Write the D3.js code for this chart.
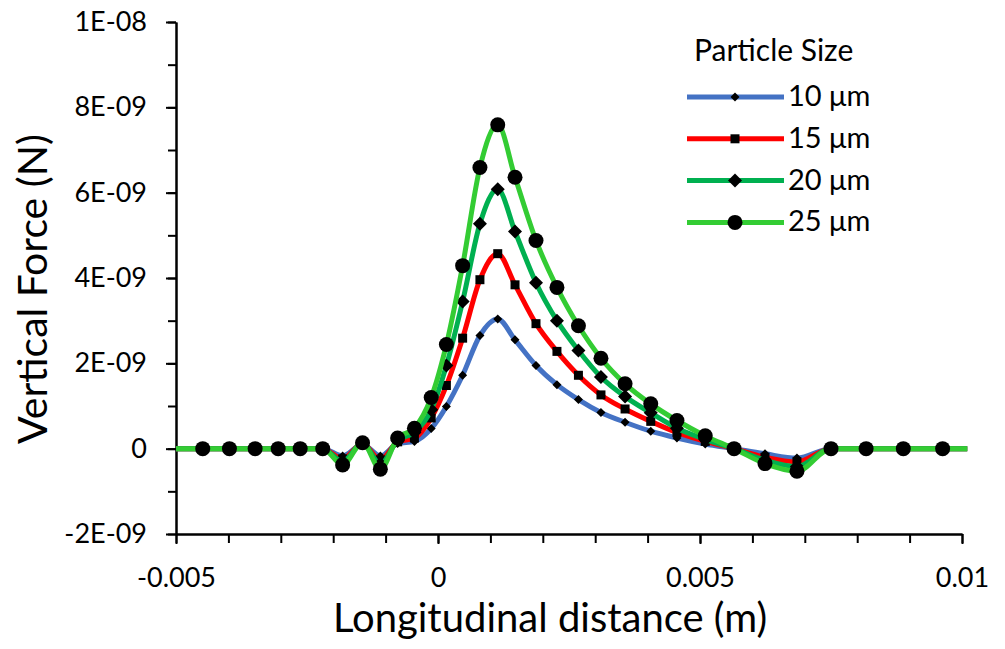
<!DOCTYPE html>
<head>
  <meta charset="utf-8">
  <script src="https://cdn.jsdelivr.net/npm/d3@7"></script>
  <style>
    body { margin: 0; background: #fff; }
    text { font-family: Lato, "Open Sans", sans-serif; fill: #000; }
  </style>
</head>
<body>
  <script>
    // longitudinal positions (m); first and last are line ends without markers
    var xs = [-0.005, -0.00449, -0.00398, -0.00349, -0.00305, -0.00263, -0.00220,
              -0.00182, -0.00144, -0.00110, -0.00077, -0.00045, -0.00013, 0.00016,
              0.00047, 0.00080, 0.00114, 0.00147, 0.00187, 0.00227, 0.00268, 0.00311,
              0.00357, 0.00406, 0.00456, 0.00510, 0.00565, 0.00624, 0.00685, 0.0075,
              0.00817, 0.00888, 0.00963, 0.0101];

    // vertical force in units of 1E-09 N
    var f10 = [0, 0, 0, 0, 0, 0, 0, -0.17, 0.10, -0.17, 0.12, 0.17, 0.47, 0.99, 1.72, 2.65, 3.04,
               2.55, 1.95, 1.50, 1.15, 0.85, 0.62, 0.41, 0.25, 0.11, 0, -0.12, -0.22, 0, 0, 0, 0, 0];
    var f15 = [0, 0, 0, 0, 0, 0, 0, -0.24, 0.12, -0.26, 0.16, 0.25, 0.72, 1.48, 2.59, 3.96, 4.57,
               3.84, 2.93, 2.28, 1.72, 1.26, 0.93, 0.64, 0.38, 0.17, 0, -0.20, -0.31, 0, 0, 0, 0, 0];
    var f20 = [0, 0, 0, 0, 0, 0, 0, -0.30, 0.13, -0.36, 0.20, 0.38, 0.91, 1.95, 3.45, 5.27, 6.08,
               5.09, 3.89, 3.00, 2.30, 1.68, 1.22, 0.84, 0.48, 0.22, 0, -0.27, -0.42, 0, 0, 0, 0, 0];
    var f25 = [0, 0, 0, 0, 0, 0, 0, -0.38, 0.14, -0.48, 0.25, 0.48, 1.20, 2.44, 4.29, 6.59, 7.59,
               6.36, 4.88, 3.78, 2.88, 2.12, 1.52, 1.05, 0.66, 0.30, 0, -0.35, -0.53, 0, 0, 0, 0, 0];

    var seriesNames = ["10 \u03bcm", "15 \u03bcm", "20 \u03bcm", "25 \u03bcm"];
    var seriesColors = ["#4472C4", "#FF0000", "#00B050", "#33CC33"];
    var seriesMarkers = ["smallDiamond", "square", "diamond", "circle"];

    var xTicks = [-0.005, 0, 0.005, 0.01];
    var xTickLabels = ["-0.005", "0", "0.005", "0.01"];
    var yTicks = [-2e-9, 0, 2e-9, 4e-9, 6e-9, 8e-9, 1e-8];
    var yTickLabels = ["-2E-09", "0", "2E-09", "4E-09", "6E-09", "8E-09", "1E-08"];

    var width = 1005, height = 649;
    var margin = {top: 22, right: 43, bottom: 115, left: 176};

    var svg = d3.select("body").append("svg")
      .attr("width", width)
      .attr("height", height);

    var x = d3.scaleLinear()
              .domain([-0.005, 0.01])
              .range([margin.left, width - margin.right]);

    var y = d3.scaleLinear()
              .domain([-2e-9, 1e-8])
              .range([height - margin.bottom, margin.top]);

    // minor ticks
    var xMinor = d3.range(-0.005, 0.01001, 0.001);
    var yMinor = d3.range(-2e-9, 1.0001e-8, 1e-9);

    svg.append("g")
        .attr("transform", "translate(0," + y(-2e-9) + ")")
        .call(d3.axisBottom(x).tickValues(xMinor).tickSize(9).tickSizeOuter(0).tickFormat(""));

    svg.append("g")
        .attr("transform", "translate(" + x(-0.005) + ",0)")
        .call(d3.axisLeft(y).tickValues(yMinor).tickSize(8).tickSizeOuter(0).tickFormat(""));

    // x axis
    var gx = svg.append("g")
        .attr("transform", "translate(0," + y(-2e-9) + ")")
        .call(d3.axisBottom(x).tickValues(xTicks).tickSize(10).tickSizeOuter(0).tickPadding(24)
          .tickFormat(function(d, i) { return xTickLabels[i]; }));
    gx.selectAll("text").style("font-size", "27px");

    // y axis
    var gy = svg.append("g")
        .attr("transform", "translate(" + x(-0.005) + ",0)")
        .call(d3.axisLeft(y).tickValues(yTicks).tickSize(10).tickSizeOuter(0).tickPadding(19)
          .tickFormat(function(d, i) { return yTickLabels[i]; }));
    gy.selectAll("text").style("font-size", "27px");

    svg.selectAll(".domain, .tick line").attr("stroke", "#000").attr("stroke-width", 2);

    // titles
    svg.append("text")
        .attr("x", 550)
        .attr("y", 632)
        .attr("text-anchor", "middle")
        .style("font-size", "40px")
        .text("Longitudinal distance (m)");

    svg.append("text")
        .attr("transform", "translate(47,289) rotate(-90)")
        .attr("text-anchor", "middle")
        .style("font-size", "41px")
        .text("Vertical Force (N)");

    function markerPath(type) {
      if (type == "smallDiamond") return "M0,-4.5L4.5,0L0,4.5L-4.5,0Z";
      if (type == "diamond") return "M0,-7L7,0L0,7L-7,0Z";
      if (type == "square") return "M-4.5,-4.5H4.5V4.5H-4.5Z";
      return d3.symbol(d3.symbolCircle, Math.PI * 7.5 * 7.5)();
    }

    var series = [f10, f15, f20, f25];
    var line = d3.line()
        .x(function(d, i) { return x(xs[i]); })
        .y(function(d) { return y(d * 1e-9); })
        .curve(d3.curveMonotoneX);

    series.forEach(function(vals, s) {
      svg.append("path")
          .attr("d", line(vals))
          .attr("fill", "none")
          .attr("stroke", seriesColors[s])
          .attr("stroke-width", 5)
          .attr("stroke-linejoin", "round");

      svg.append("g").selectAll("path")
        .data(vals.slice(1, -1))
        .enter().append("path")
          .attr("transform", function(d, i) {
            return "translate(" + x(xs[i + 1]) + "," + y(d * 1e-9) + ")";
          })
          .attr("d", markerPath(seriesMarkers[s]))
          .attr("fill", "#000");
    });

    // legend
    var legend = svg.append("g");
    legend.append("text")
        .attr("x", 694)
        .attr("y", 61)
        .style("font-size", "30px")
        .text("Particle Size");

    seriesNames.forEach(function(name, s) {
      var ly = 97 + s * 41.8;
      legend.append("line")
          .attr("x1", 687).attr("x2", 784)
          .attr("y1", ly).attr("y2", ly)
          .attr("stroke", seriesColors[s])
          .attr("stroke-width", 5);
      legend.append("path")
          .attr("transform", "translate(735," + ly + ")")
          .attr("d", markerPath(seriesMarkers[s]))
          .attr("fill", "#000");
      legend.append("text")
          .attr("x", 788)
          .attr("y", ly + 9)
          .style("font-size", "29px")
          .text(name);
    });
  </script>
</body>
